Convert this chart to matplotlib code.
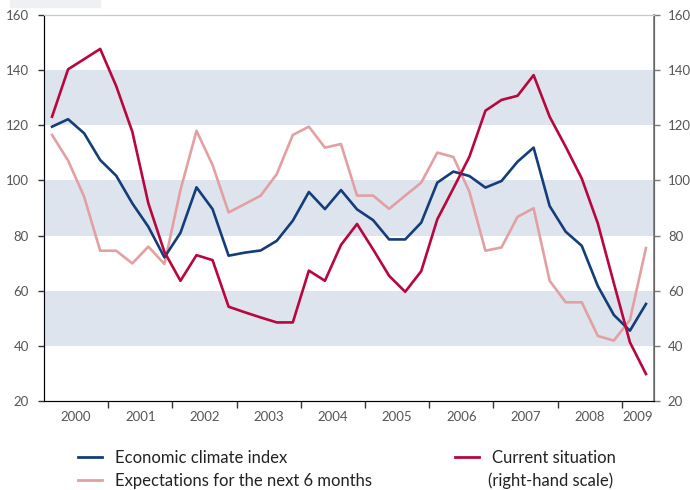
import numpy as np
import matplotlib.pyplot as plt
from matplotlib.patches import Rectangle

plt.rcParams['font.family'] = ['Lato', 'DejaVu Sans']

# quarterly data, 2000Q1 - 2009Q2
quarters = np.arange(38)
years = [2000, 2001, 2002, 2003, 2004, 2005, 2006, 2007, 2008, 2009]

climate = [119.5, 122.2, 117.1, 107.4, 101.7, 91.7, 83.2, 72.1, 81.0, 97.5,
           89.6, 72.7, 73.8, 74.6, 78.1, 85.4, 95.8, 89.6, 96.5, 89.5,
           85.6, 78.6, 78.6, 84.7, 99.2, 103.2, 101.6, 97.4, 99.8, 106.8,
           111.9, 90.7, 81.4, 76.3, 61.7, 51.2, 45.5, 55.2]
expectations = [116.5, 107.2, 94.1, 74.5, 74.5, 69.9, 76.0, 69.7, 96.5, 118.0,
                105.6, 88.4, 91.4, 94.5, 102.3, 116.5, 119.5, 111.9, 113.2, 94.5,
                94.5, 89.7, 94.5, 99.2, 110.1, 108.5, 95.9, 74.5, 75.7, 86.8,
                89.9, 63.6, 55.8, 55.8, 43.6, 41.9, 49.4, 75.5]
current = [123.1, 140.3, 144.0, 147.7, 134.2, 117.7, 91.7, 74.1, 63.6, 72.9,
           71.1, 54.2, 52.2, 50.3, 48.5, 48.5, 67.3, 63.6, 76.6, 84.2,
           75.0, 65.4, 59.6, 67.1, 85.9, 97.1, 108.6, 125.3, 129.2, 130.7,
           138.2, 123.1, 112.2, 100.7, 84.4, 62.7, 41.3, 29.8]

labels = ["Economic climate index", "Expectations for the next 6 months",
          "Current situation", "(right-hand scale)"]

BLUE = "#143d7a"
PINK = "#e3a0a2"
RED = "#b8063e"
BAND = "#dee4ee"
TXT = "#555555"

x = 2000 + (quarters + 0.5) / 4

fig = plt.figure(figsize=(6.9, 4.9), dpi=100)
ax = fig.add_axes([44 / 690, 1 - 401 / 490, 610 / 690, 386 / 490])
ax2 = ax.twinx()

# decoration in the top-left corner
fig.patches.append(Rectangle((10 / 690, 1 - 7 / 490), 90 / 690, 7 / 490,
                             transform=fig.transFigure, color="#eff0f3", zorder=0))

for lo in (40, 80, 120):
    ax.axhspan(lo, lo + 20, color=BAND, lw=0, zorder=0)

ax.plot(x, expectations, color=PINK, lw=1.9, zorder=2)
ax.plot(x, climate, color=BLUE, lw=1.9, zorder=3)
ax2.plot(x, current, color=RED, lw=1.9, zorder=4)

for a in (ax, ax2):
    a.set_xlim(2000, 2009.5)
    a.set_ylim(20, 160)
    a.set_yticks(range(20, 161, 20))
    a.tick_params(axis="y", direction="out", length=4, width=1, pad=7,
                  labelsize=9.5, labelcolor=TXT, colors="#333333")

# year boundaries as ticks, labels in the middle of the year
ax.set_xticks(years[1:])
ax.set_xticklabels([])
ax.tick_params(axis="x", which="major", direction="out", length=5, width=1, colors="#333333")
ax.set_xticks([y + 0.5 for y in years[:-1]] + [2009.25], minor=True)
ax.set_xticklabels([str(y) for y in years], minor=True)
ax.tick_params(axis="x", which="minor", length=0, pad=7, labelsize=9.5, labelcolor=TXT)

ax.spines["left"].set_color("#333333")
ax.spines["bottom"].set_color("#333333")
ax.spines["top"].set_color("#c8c8c8")
ax2.spines["right"].set_color("#7a7a7a")
ax2.spines["right"].set_linewidth(1.2)
ax2.spines["top"].set_color("#c8c8c8")
ax2.tick_params(axis="y", colors="#7a7a7a", labelcolor=TXT, pad=6)

h1, = ax.plot([], [], color=BLUE, lw=2)
h2, = ax.plot([], [], color=PINK, lw=2)
h3, = ax.plot([], [], color=RED, lw=2)

leg1 = fig.legend(handles=[h1, h2], labels=labels[:2], loc="upper left",
                  bbox_to_anchor=(78 / 690, 1 - 450 / 490), frameon=False,
                  fontsize=12, handlelength=1.45, handletextpad=0.75,
                  borderpad=0, borderaxespad=0, labelspacing=0.42)
leg2 = fig.legend(handles=[h3], labels=labels[2:3], loc="upper left",
                  bbox_to_anchor=(455 / 690, 1 - 450 / 490), frameon=False,
                  fontsize=12, handlelength=1.45, handletextpad=0.75,
                  borderpad=0, borderaxespad=0)
for leg in (leg1, leg2):
    for t in leg.get_texts():
        t.set_color("#222222")
fig.text(488 / 690, 1 - 481 / 490, labels[3], fontsize=12, color="#222222",
         ha="left", va="center")

fig.savefig("out.png", dpi=100)
